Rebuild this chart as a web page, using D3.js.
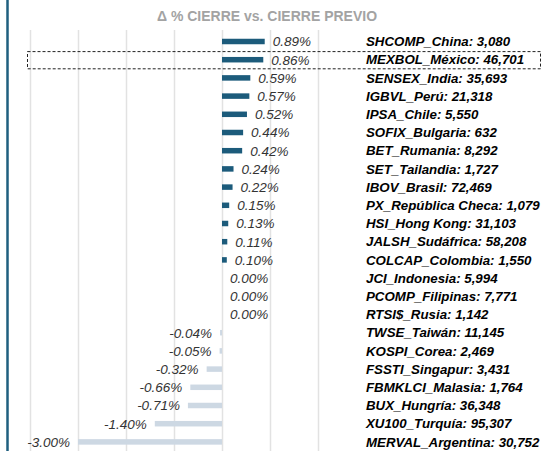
<!DOCTYPE html>
<html>
<head>
<meta charset="utf-8">
<script src="https://cdn.jsdelivr.net/npm/d3@7"></script>
<style>
  body { margin: 0; background: #fff; }
  svg { display: block; font-family: "Liberation Sans", Arial, sans-serif; }
</style>
</head>
<body>
<div id="chart"></div>
<script>
// Δ % cierre vs. cierre previo, índices bursátiles
const indices = [
    'SHCOMP_China', 'MEXBOL_México', 'SENSEX_India', 'IGBVL_Perú', 'IPSA_Chile',
    'SOFIX_Bulgaria', 'BET_Rumania', 'SET_Tailandia', 'IBOV_Brasil', 'PX_República Checa',
    'HSI_Hong Kong', 'JALSH_Sudáfrica', 'COLCAP_Colombia', 'JCI_Indonesia', 'PCOMP_Filipinas',
    'RTSI$_Rusia', 'TWSE_Taiwán', 'KOSPI_Corea', 'FSSTI_Singapur', 'FBMKLCI_Malasia',
    'BUX_Hungría', 'XU100_Turquía', 'MERVAL_Argentina'
];
const closes = [
    '3,080', '46,701', '35,693', '21,318', '5,550',
    '632', '8,292', '1,727', '72,469', '1,079',
    '31,103', '58,208', '1,550', '5,994', '7,771',
    '1,142', '11,145', '2,469', '3,431', '1,764',
    '36,348', '95,307', '30,752'
];
const changes = [
    0.89, 0.86, 0.59, 0.57, 0.52,
    0.44, 0.42, 0.24, 0.22, 0.15,
    0.13, 0.11, 0.10, 0.00, 0.00,
    0.00, -0.04, -0.05, -0.32, -0.66,
    -0.71, -1.40, -3.00
];
const gridTicks = [-4, -3, -2, -1, 0, 1, 2];
const highlighted = 'MEXBOL_México';

const width = 547;
const height = 451;

const rows = indices.map((name, i) => ({ name, close: closes[i], value: changes[i] }));

const svg = d3.select('#chart').append('svg')
    .attr('width', width)
    .attr('height', height);

const x = d3.scaleLinear().domain([-4, 2]).range([30, 318]);
const y = d3.scaleBand().domain(indices).range([32.4, 451]);
const barH = 5.5;
const fmtPct = (v) => d3.format('.2f')(v).replace('−', '-') + '%';

// borde izquierdo
svg.append('line')
    .attr('x1', 7.5).attr('x2', 7.5)
    .attr('y1', 0).attr('y2', height)
    .attr('stroke', '#1f5f7f')
    .attr('stroke-width', 2.5);

// título
svg.append('text')
    .attr('x', 267)
    .attr('y', 20.5)
    .attr('text-anchor', 'middle')
    .attr('font-size', '14px')
    .attr('font-weight', 'bold')
    .attr('fill', '#a3a3a3')
    .text('Δ % CIERRE vs. CIERRE PREVIO');

// rejilla vertical
svg.append('g')
    .attr('transform', `translate(0, ${height})`)
    .call(d3.axisBottom(x).tickValues(gridTicks).tickSize(height - 30).tickFormat(''))
    .call((g) => g.select('.domain').remove())
    .call((g) => g.selectAll('.tick line')
        .attr('stroke', '#e2e2e2')
        .attr('stroke-width', 1.5)
        .attr('transform', 'scale(1,-1)'));

// barras
svg.append('g').selectAll('rect').data(rows).enter().append('rect')
    .attr('x', (d) => x(Math.min(0, d.value)))
    .attr('y', (d) => y(d.name) + y.bandwidth() / 2 - barH / 2)
    .attr('width', (d) => Math.abs(x(d.value) - x(0)))
    .attr('height', barH)
    .attr('fill', (d) => d.value >= 0 ? '#1c5b7b' : '#cdd8e3');

// etiquetas de valor
svg.append('g').selectAll('text').data(rows).enter().append('text')
    .attr('x', (d) => d.value >= 0 ? x(d.value) + 8 : x(d.value) - 8)
    .attr('y', (d) => y(d.name) + y.bandwidth() / 2)
    .attr('dy', '0.36em')
    .attr('text-anchor', (d) => d.value >= 0 ? 'start' : 'end')
    .attr('font-size', '13.5px')
    .attr('font-style', 'italic')
    .attr('fill', '#333')
    .text((d) => fmtPct(d.value));

// nombres de índices
svg.append('g').selectAll('text').data(rows).enter().append('text')
    .attr('x', 366)
    .attr('y', (d) => y(d.name) + y.bandwidth() / 2)
    .attr('dy', '0.36em')
    .attr('font-size', '13.3px')
    .attr('font-style', 'italic')
    .attr('font-weight', 'bold')
    .attr('fill', '#000')
    .text((d) => `${d.name}: ${d.close}`);

// recuadro de resaltado
svg.append('rect')
    .attr('x', 27.5)
    .attr('y', y(highlighted) + 1)
    .attr('width', 513)
    .attr('height', y.bandwidth() - 1)
    .attr('fill', 'none')
    .attr('stroke', '#222')
    .attr('stroke-width', 1)
    .attr('stroke-dasharray', '3,2');
</script>
</body>
</html>
